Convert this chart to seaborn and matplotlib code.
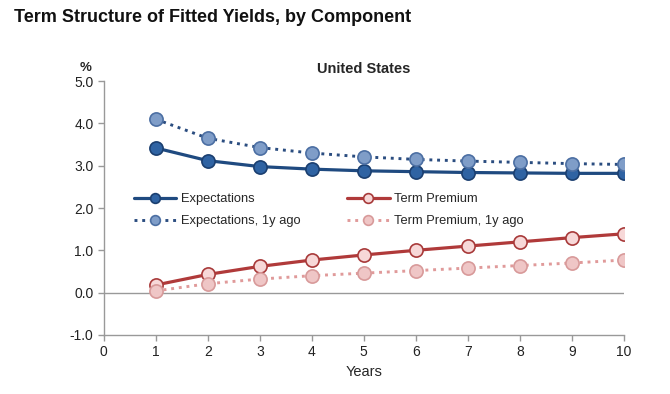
import numpy as np
import pandas as pd
import seaborn as sns
import matplotlib.pyplot as plt
from matplotlib import font_manager

sns.set_style("white")
plt.rcParams['font.family'] = ['Liberation Sans', 'DejaVu Sans']

#%% data
years = [1, 2, 3, 4, 5, 6, 7, 8, 9, 10]
expectations = [3.42, 3.12, 2.98, 2.92, 2.88, 2.86, 2.84, 2.83, 2.82, 2.82]
expectations_1y = [4.10, 3.65, 3.43, 3.30, 3.21, 3.15, 3.11, 3.08, 3.05, 3.03]
term_premium = [0.18, 0.43, 0.62, 0.77, 0.89, 1.00, 1.10, 1.20, 1.30, 1.39]
term_premium_1y = [0.04, 0.21, 0.32, 0.40, 0.46, 0.52, 0.58, 0.64, 0.70, 0.77]

#%% styles (legend fills column-wise, so order matters)
series = [
    ("Expectations", expectations, '-', '#1f4a80', '#2f63a3', '#1b3f70'),
    ("Expectations, 1y ago", expectations_1y, ':', '#2b4d80', '#7f9dc8', '#4c6fa3'),
    ("Term Premium", term_premium, '-', '#b03a3a', '#f7d8d8', '#a83a3a'),
    ("Term Premium, 1y ago", term_premium_1y, ':', '#e09a9a', '#efc6c6', '#d89a9a'),
]

fig = plt.figure(figsize=(6.7, 3.94), dpi=100)
ax = fig.add_axes([0.155, 0.150, 0.776, 0.644])

for name, vals, ls, lc, fc, ec in series:
    df = pd.DataFrame({'Years': years, 'value': vals})
    sns.lineplot(ax=ax, data=df, x='Years', y='value', label=name,
                 linestyle=ls, color=lc, linewidth=2.3 if ls == '-' else 2.1,
                 marker='o', markersize=9.5, markerfacecolor=fc,
                 markeredgecolor=ec, markeredgewidth=1.2)

ax.axhline(0, color='#999999', linewidth=1, zorder=0)
ax.set_xlim(0, 10)
ax.set_ylim(-1, 5)
ax.set_xticks(range(0, 11))
ax.set_yticks(np.arange(-1, 5.1, 1))
ax.set_yticklabels([f"{v:.1f}" for v in np.arange(-1, 5.1, 1)])
ax.set_xlabel("Years", fontsize=10.5, labelpad=4)
ax.set_ylabel("")
for s in ['top', 'right']:
    ax.spines[s].set_visible(False)
for s in ['left', 'bottom']:
    ax.spines[s].set_color('#999999')
    ax.spines[s].set_linewidth(1)
ax.tick_params(axis='both', direction='out', length=4, width=1, color='#999999',
               labelsize=10, labelcolor='#222222', bottom=True, left=True)

leg = ax.legend(loc='upper left', bbox_to_anchor=(0.035, 0.605), ncol=2, frameon=False,
                fontsize=9.3, handlelength=3.3, handletextpad=0.35,
                columnspacing=3.6, labelspacing=0.8)
for h in leg.legend_handles:
    h.set_markersize(7)

# condensed bold title if a narrow face exists
names = {f.name for f in font_manager.fontManager.ttflist}
if 'Liberation Sans Narrow' in names:
    tfam, tsize = ['Liberation Sans Narrow', 'DejaVu Sans'], 16
elif 'DejaVu Sans Condensed' in names:
    tfam, tsize = ['DejaVu Sans Condensed', 'DejaVu Sans'], 13
else:
    tfam, tsize = ['Liberation Sans', 'DejaVu Sans'], 13
fig.text(0.021, 0.955, "Term Structure of Fitted Yields, by Component",
         fontsize=tsize, fontweight='bold', va='center', ha='left',
         family=tfam, color='#111111')
fig.text(0.128, 0.828, "%", fontsize=9.5, fontweight='bold', ha='center', va='center')
ax.set_title("United States", fontsize=10.5, fontweight='bold', pad=6)

fig.savefig("out.png", dpi=100)
